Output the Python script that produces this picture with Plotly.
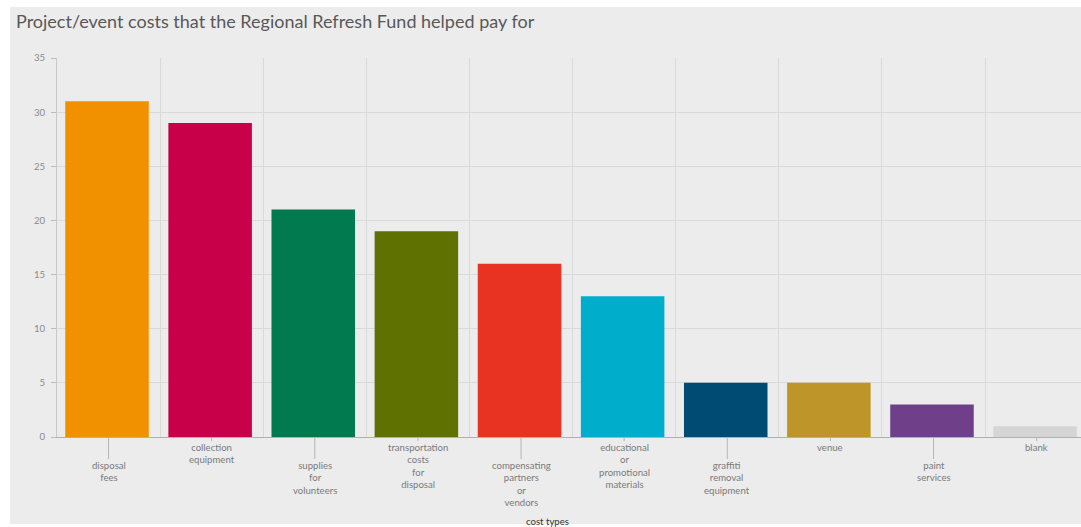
import plotly.graph_objects as go

categories = ["disposal fees", "collection equipment", "supplies for volunteers",
              "transportation costs for disposal", "compensating partners or vendors",
              "educational or promotional materials", "graffiti removal equipment",
              "venue", "paint services", "blank"]
counts = [31, 29, 21, 19, 16, 13, 5, 5, 3, 1]
bar_colors = ["#F29100", "#C8004A", "#007A4E", "#5F7100", "#E83222",
              "#00AECB", "#004B74", "#BE9529", "#6F4089", "#D5D5D5"]
y_ticks = [0, 5, 10, 15, 20, 25, 30, 35]

FONT = "Lato, 'Open Sans', sans-serif"
W, H = 1081, 527
ML, MR, MT, MB = 57, 0, 58, 90
pw = W - ML - MR
ph = H - MT - MB

fig = go.Figure()
fig.add_trace(go.Bar(
    x=categories, y=counts, marker=dict(color=bar_colors, line=dict(width=0)),
    width=0.81, offset=-0.42, hoverinfo="x+y",
))

annotations = []
for i, (c, v) in enumerate(zip(categories, counts)):
    lower = (i % 2 == 0)
    annotations.append(dict(
        x=c, y=0, xref="x", yref="y",
        text=c.replace(" ", "<br>"),
        showarrow=True, arrowhead=0, arrowwidth=1, arrowcolor="#b5b5b5",
        ax=0, ay=22 if lower else 4, axref="pixel", ayref="pixel",
        xanchor="center", yanchor="top",
        font=dict(family=FONT, size=9.6, color="#7a7a7a"),
        borderpad=0,
    ))
annotations.append(dict(
    x=(547 - ML) / pw, y=(437 - 521) / ph, xref="paper", yref="paper",
    text="cost types", showarrow=False, xanchor="center", yanchor="middle",
    font=dict(family=FONT, size=9.6, color="#333"),
))

fig.update_layout(
    width=W, height=H,
    margin=dict(l=ML, r=MR, t=MT, b=MB, pad=0),
    paper_bgcolor="white", plot_bgcolor="#ececec",
    showlegend=False,
    title=dict(text="Project/event costs that the Regional Refresh Fund helped pay for",
               x=16 / W, xanchor="left", xref="container",
               y=1 - 22 / H, yanchor="middle", yref="container",
               font=dict(family=FONT, size=18, color="#585858")),
    xaxis=dict(type="category", range=[-0.5, 9.43], tickson="boundaries",
               showgrid=True, gridcolor="#d9d9d9", gridwidth=1,
               showticklabels=False, ticks="", showline=True, linecolor="#b0b0b0",
               zeroline=False, fixedrange=True),
    yaxis=dict(range=[0, 35], tickvals=y_ticks, showgrid=True, gridcolor="#d9d9d9",
               ticks="outside", ticklen=5, tickcolor="#bdbdbd",
               showline=True, linecolor="#c8c8c8", zeroline=False,
               tickfont=dict(family=FONT, size=9.6, color="#8a8a8a"),
               ticklabelstandoff=4, fixedrange=True),
    annotations=annotations,
    shapes=[dict(type="rect", xref="paper", yref="paper", layer="below",
                 x0=(10 - ML) / pw, x1=1.0, y0=(437 - 524) / ph, y1=(437 - 7) / ph,
                 fillcolor="#ececec", line=dict(width=0))],
)

fig.write_html("out.html")
